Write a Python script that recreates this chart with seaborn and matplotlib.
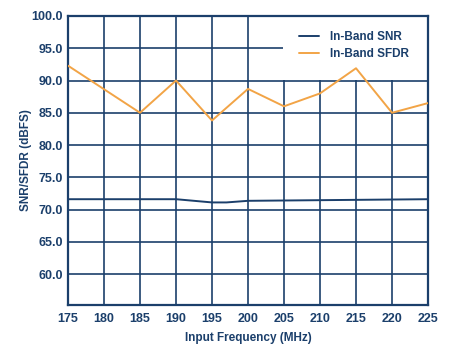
import matplotlib
matplotlib.use("Agg")
import matplotlib.pyplot as plt
import seaborn as sns
import pandas as pd
from matplotlib.patches import Rectangle

freq = [175, 180, 185, 190, 195, 197, 200, 205, 210, 215, 220, 225]
snr = [71.6, 71.6, 71.6, 71.6, 71.1, 71.1, 71.35, 71.4, 71.45, 71.5, 71.55, 71.6]
sfdr_freq = [175, 185, 190, 195, 200, 205, 210, 215, 220, 225]
sfdr = [92.3, 85.0, 90.0, 83.8, 88.7, 86.0, 88.0, 91.9, 85.0, 86.5]
xticks = [175, 180, 185, 190, 195, 200, 205, 210, 215, 220, 225]
yticks = [60, 65, 70, 75, 80, 85, 90, 95, 100]

navy = "#1b3f6b"
orange = "#f2a446"

sns.set_theme(style="white")
plt.rcParams['font.family'] = ['Liberation Sans', 'DejaVu Sans']

fig = plt.figure(figsize=(4.49, 3.51), dpi=100)
ax = fig.add_axes([68/449, 1 - 305/351, 360/449, 289/351])

df_snr = pd.DataFrame({"f": freq, "v": snr})
df_sfdr = pd.DataFrame({"f": sfdr_freq, "v": sfdr})
sns.lineplot(data=df_snr, x="f", y="v", ax=ax, color=navy, lw=1.4, label="In-Band SNR", zorder=3)
sns.lineplot(data=df_sfdr, x="f", y="v", ax=ax, color=orange, lw=1.4, label="In-Band SFDR", zorder=3)

ax.set_xlim(175, 225)
ax.set_ylim(55.2, 100)
ax.set_xticks(xticks)
ax.set_yticks(yticks)
ax.set_yticklabels([f"{v:.1f}" for v in yticks])
ax.set_axisbelow(True)
ax.grid(True, color=navy, lw=1.2)
ax.add_patch(Rectangle((0.597, 0.778), 0.403, 0.222, transform=ax.transAxes,
                       facecolor="white", edgecolor="none", zorder=1))
for s in ax.spines.values():
    s.set_color(navy)
    s.set_linewidth(1.6)
ax.tick_params(axis="both", colors=navy, labelsize=9, length=0)
ax.tick_params(axis="x", pad=6)
ax.tick_params(axis="y", pad=3.5)
for lab in ax.get_xticklabels() + ax.get_yticklabels():
    lab.set_fontweight("bold")
ax.set_xlabel("Input Frequency (MHz)", color=navy, fontsize=8.5, fontweight="bold", labelpad=4.5)
ax.set_ylabel("SNR/SFDR (dBFS)", color=navy, fontsize=8.5, fontweight="bold", labelpad=0)

leg = ax.legend(loc="upper left", bbox_to_anchor=(0.611, 0.985), frameon=False,
                fontsize=8.5, handlelength=1.7, handletextpad=1.0, labelspacing=0.4)
for t in leg.get_texts():
    t.set_color(navy)
    t.set_fontweight("bold")

fig.savefig("out.png", dpi=100)
